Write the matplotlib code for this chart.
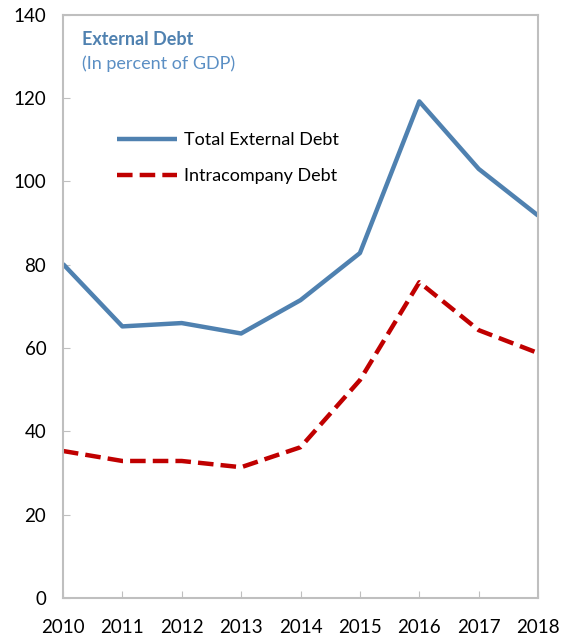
import matplotlib.pyplot as plt

years = [2010, 2011, 2012, 2013, 2014, 2015, 2016, 2017, 2018]
total_debt = [80.2, 65.2, 66.0, 63.5, 71.5, 82.8, 119.2, 103.0, 91.8]
intra_debt = [35.3, 32.9, 32.9, 31.4, 36.2, 52.3, 75.8, 64.3, 58.8]
yticks = [0, 20, 40, 60, 80, 100, 120, 140]

plt.rcParams['font.family'] = ['Lato', 'DejaVu Sans']

fig = plt.figure(figsize=(5.67, 6.41), dpi=100)
ax = fig.add_axes([0.111, 0.067, 0.838, 0.91])

ax.plot(years, total_debt, color="#4F81B0", lw=3.2, label="Total External Debt",
        solid_capstyle="butt")
ax.plot(years, intra_debt, color="#C00000", lw=3.2, ls=(0, (3.5, 1.6)),
        label="Intracompany Debt")

ax.set_xlim(2010, 2018)
ax.set_ylim(0, 140)
ax.set_yticks(yticks)
ax.set_xticks(years)
ax.tick_params(direction="in", length=5, color="#BFBFBF", labelsize=13.5)
ax.tick_params(axis="x", pad=15)
ax.tick_params(axis="y", pad=12)
for s in ax.spines.values():
    s.set_color("#BFBFBF")
    s.set_linewidth(1.5)

ax.text(0.04, 0.957, "External Debt", transform=ax.transAxes, color="#4F81B0",
        fontsize=13, fontweight="bold", va="center")
ax.text(0.04, 0.916, "(In percent of GDP)", transform=ax.transAxes, color="#5B8FC4",
        fontsize=13, va="center")

ax.legend(loc="upper left", bbox_to_anchor=(0.08, 0.826), frameon=False,
          fontsize=13, handlelength=3.3, handletextpad=0.4, labelspacing=1.1)

fig.savefig("out.png", dpi=100)
